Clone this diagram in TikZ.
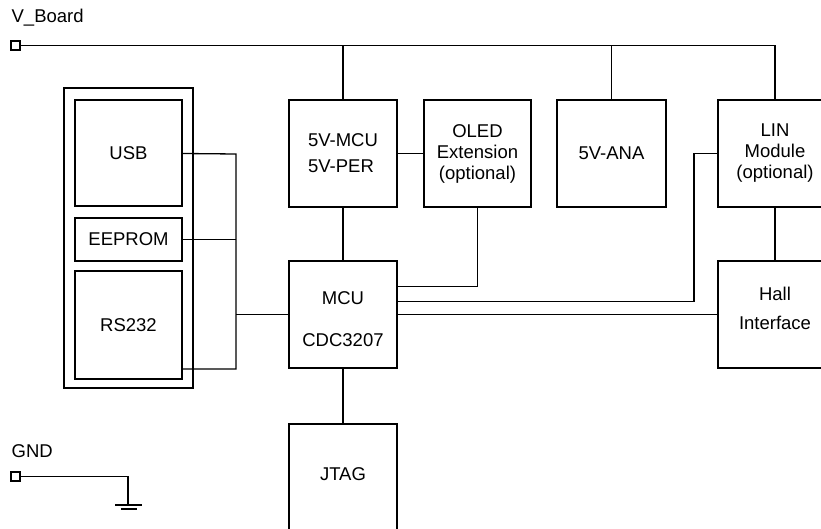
\documentclass[tikz,border=0pt]{standalone}
\usepackage{fontspec}
\setmainfont{Liberation Sans}
\usetikzlibrary{positioning}

\begin{document}
\begin{tikzpicture}[
  x=1pt, y=-1pt,
  line width=1.3pt,
  block/.style={rectangle, draw, minimum width=108pt, minimum height=107pt,
                inner sep=0pt, outer sep=0pt, align=center,
                font=\fontsize{18.5}{21}\selectfont},
  term/.style={rectangle, draw, minimum size=9pt, inner sep=0pt,
               outer sep=0pt, line width=1.1pt},
  lbl/.style={font=\fontsize{18.5}{21}\selectfont, inner sep=0pt, anchor=west},
]
  \useasboundingbox (0,0) rectangle (821,529);

  % supply and ground terminals
  \node[lbl]  (vlabel) at (11,18)   {V\_Board};
  \node[term] (vterm)  at (15.5,45.5) {};
  \node[lbl]  (glabel) at (11,451)  {GND};
  \node[term] (gterm)  at (15.5,476.5) {};

  % upper row
  \node[block, anchor=north west, align=left] (vmcu) at (289,100)
    {5V-MCU\\[5pt]5V-PER};
  \node[block, right=27pt of vmcu, minimum width=107pt] (oled)
    {OLED\\Extension\\(optional)};
  \node[block, right=26pt of oled, minimum width=109pt] (ana) {5V-ANA};
  \node[block, right=52pt of ana, minimum width=114pt] (lin)
    {LIN\\Module\\(optional)};

  % lower row
  \node[block, below=54pt of vmcu, text height=65pt] (mcu) {MCU\\[21pt]CDC3207};
  \node[block, below=56pt of mcu, minimum height=110pt, text depth=10pt] (jtag) {JTAG};
  \node[block, below=54pt of lin, minimum width=114pt, text depth=12pt] (hall)
    {Hall\\[8pt]Interface};

  % interface board
  \node[block, anchor=north west, minimum width=129pt, minimum height=300pt]
    (board) at (64,88) {};
  \node[block, anchor=north west, minimum width=107pt, minimum height=106pt]
    (usb) at (75,100) {USB};
  \node[block, below=12pt of usb, minimum width=107pt, minimum height=43pt]
    (eeprom) {EEPROM};
  \node[block, below=10pt of eeprom, minimum width=107pt, minimum height=108pt]
    (rs232) {RS232};

  \coordinate (bustop) at (236,154);
  \coordinate (busbot) at (236,369);
  \coordinate (mcuoled) at ([yshift=28pt]mcu.east);
  \coordinate (mcului)  at ([yshift=13pt]mcu.east);
  \coordinate (linbend) at ([xshift=-24pt]lin.west);
  \coordinate (gnd) at (128,505);

  % supply rail
  \draw (vterm) -- (vterm -| lin) -- (lin);
  \draw (vterm -| vmcu) -- (vmcu);
  \draw (vterm -| ana)  -- (ana);

  \draw (vmcu) -- (oled);
  \draw (vmcu) -- (mcu);
  \draw (oled) -- (oled |- mcuoled) -- (mcuoled);
  \draw (mcului) -| (linbend) -- (lin);
  \draw (mcu) -- (hall);
  \draw (lin) -- (hall);
  \draw (mcu) -- (jtag);

  % bus to the interface board
  \draw (usb) -- (bustop) -- (busbot) -- ([yshift=10pt]rs232.south east);
  \draw (eeprom) -- (eeprom -| bustop);
  \draw (mcu) -- (mcu -| bustop);

  % ground
  \draw (gterm) -- (gterm -| gnd) -- (gnd);
  \draw ([xshift=-13pt]gnd) -- ([xshift=14pt]gnd);
  \draw ([shift={(-7pt,-4pt)}]gnd) -- ([shift={(9pt,-4pt)}]gnd);
\end{tikzpicture}
\end{document}
